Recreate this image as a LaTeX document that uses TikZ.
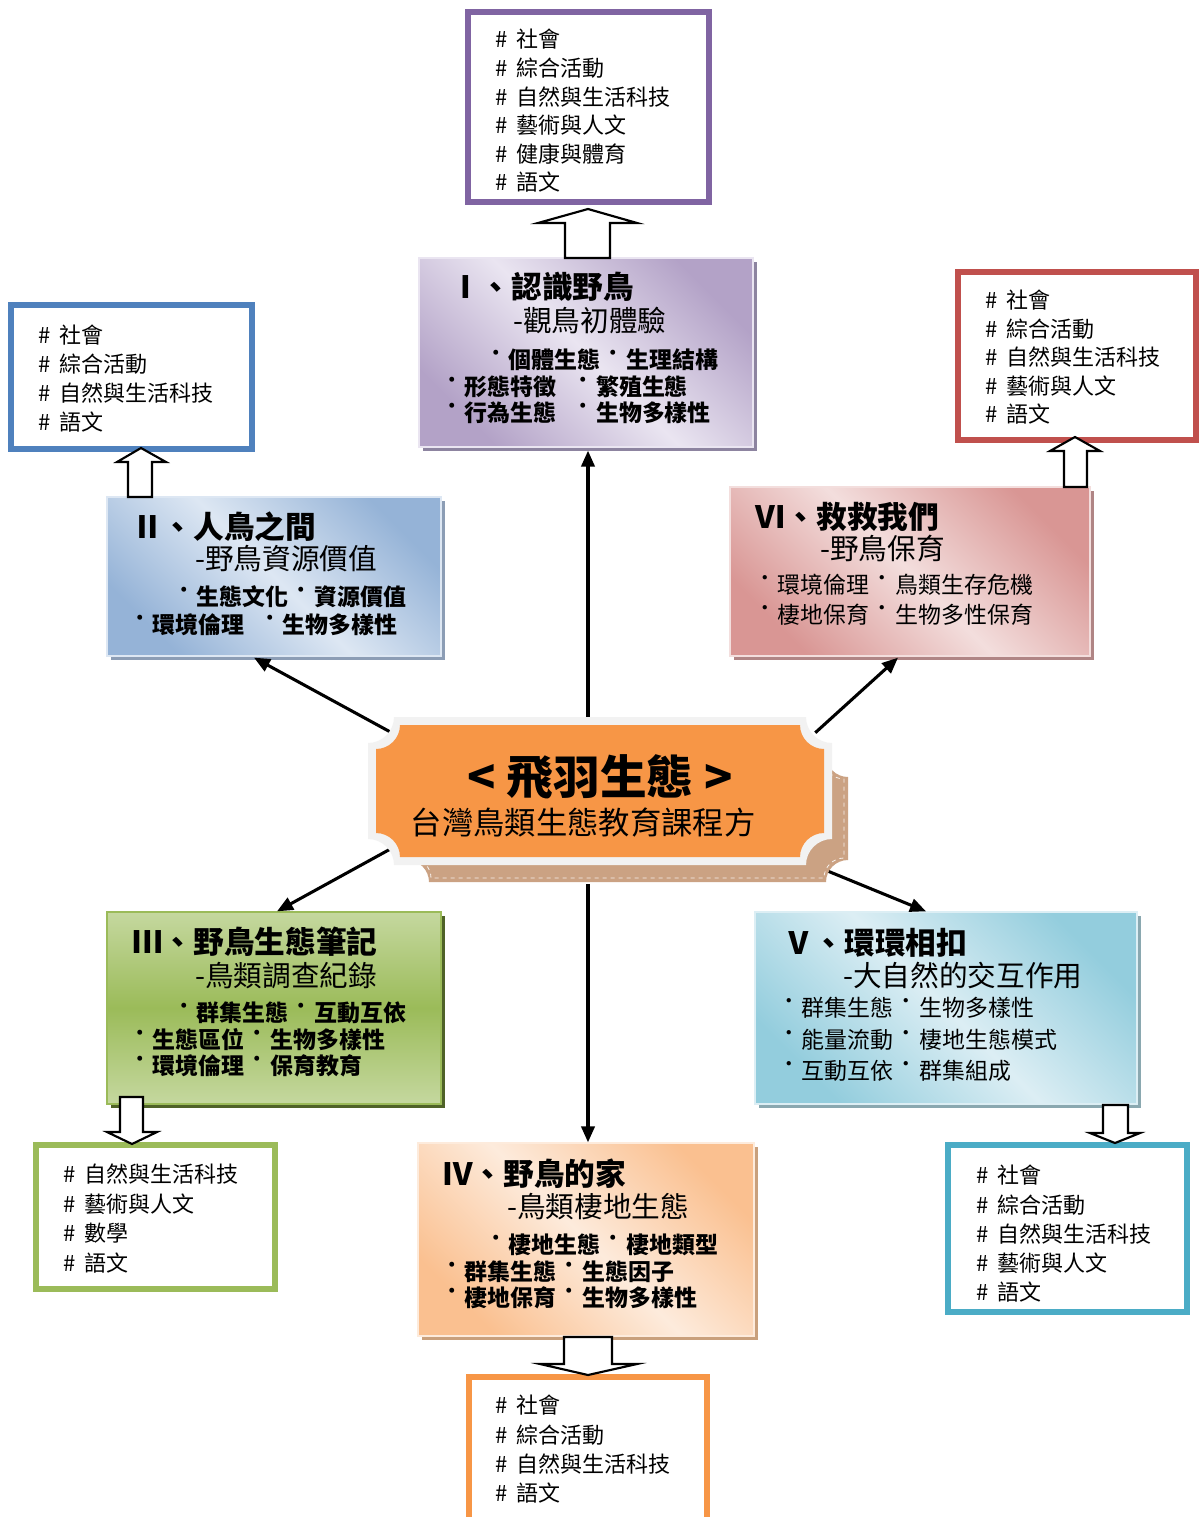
\documentclass[tikz,border=0pt]{standalone}
\usepackage{fontspec}
\setmainfont{Noto Sans CJK TC}
\usetikzlibrary{shadows,arrows.meta,fit}
\definecolor{purD}{HTML}{B3A2C7}\definecolor{purL}{HTML}{EAE5F1}\definecolor{purS}{HTML}{8D84A0}
\definecolor{bluD}{HTML}{95B3D7}\definecolor{bluL}{HTML}{DDE7F3}\definecolor{bluS}{HTML}{8C9DB5}
\definecolor{redD}{HTML}{D99694}\definecolor{redL}{HTML}{F3DEDD}\definecolor{redS}{HTML}{B08585}
\definecolor{grnD}{HTML}{9BBB59}\definecolor{grnL}{HTML}{C5D89F}\definecolor{grnS}{HTML}{4F6228}
\definecolor{orgD}{HTML}{FAC090}\definecolor{orgL}{HTML}{FDEBDC}\definecolor{orgS}{HTML}{C9A07C}
\definecolor{cyaD}{HTML}{93CDDD}\definecolor{cyaL}{HTML}{DCEEF4}\definecolor{cyaS}{HTML}{8AA8B0}
\definecolor{bPur}{HTML}{8064A2}\definecolor{bBlu}{HTML}{4F81BD}\definecolor{bRed}{HTML}{C0504D}
\definecolor{bGrn}{HTML}{9BBB59}\definecolor{bCya}{HTML}{4BACC6}\definecolor{bOrg}{HTML}{F79646}
\definecolor{hubOrg}{HTML}{F79646}\definecolor{hubFrame}{HTML}{F2F2F2}\definecolor{hubTan}{HTML}{CBA283}
\newcommand\dt{\makebox[1.12em][c]{\smash{\raisebox{0.3em}{˙}}}}
\newcommand\plaque[5]{({#1+#5},#2) -- ({#3-#5},#2) .. controls ({#3-#5},{#2+0.55*#5}) and ({#3-0.55*#5},{#2+#5}) .. (#3,{#2+#5}) -- (#3,{#4-#5}) .. controls ({#3-0.55*#5},{#4-#5}) and ({#3-#5},{#4-0.55*#5}) .. ({#3-#5},#4) -- ({#1+#5},#4) .. controls ({#1+#5},{#4-0.55*#5}) and ({#1+0.55*#5},{#4-#5}) .. (#1,{#4-#5}) -- (#1,{#2+#5}) .. controls ({#1+0.55*#5},{#2+#5}) and ({#1+#5},{#2+0.55*#5}) .. cycle}
\tikzset{
  txt/.style={anchor=base west, inner sep=0pt},
  small/.style={txt, font=\fontsize{16.5}{18}\selectfont},
  ttl/.style={txt, font=\fontsize{23}{25}\selectfont\bfseries},
  sub/.style={txt, font=\fontsize{21.5}{24}\selectfont},
  itb/.style={txt, font=\fontsize{17.2}{20}\selectfont\bfseries},
  itr/.style={txt, font=\fontsize{17.2}{20}\selectfont},
  panel/.style n args={4}{inner sep=0pt, draw=#2, line width=1pt,
    top color=#1, bottom color=#1, middle color=#2, shading angle=#4,
    drop shadow={shadow xshift=3pt, shadow yshift=-3pt, fill=#3, opacity=1}},
  subjbox/.style={draw=#1, line width=4.5pt, fill=white, inner sep=0pt},
  hollow/.style={draw=black, fill=white, line width=1.6pt, line join=miter},
  conn/.style={line width=2.3pt, -{Triangle[length=12pt,width=10pt]}},
  hubt/.style={anchor=base, inner sep=0pt}
}
\begin{document}
\begin{tikzpicture}[x=0.75pt,y=-0.75pt]
\fill[white] (0,0) rectangle (1200,1517);
\useasboundingbox (0,0) rectangle (1200,1517);

% ---------- subject boxes (y = baselines) ----------
\node[subjbox=bPur, fit={(468,12) (709,202)}] (P) {};
\foreach \t [count=\i] in {社會,綜合活動,自然與生活科技,藝術與人文,健康與體育,語文}
  \node[small] (P\i) at (495,{47.8+28.6*(\i-1)}) {\#\hspace{0.4em}\t};

\node[subjbox=bBlu, fit={(11,305) (252,449)}] (B) {};
\foreach \t [count=\i] in {社會,綜合活動,自然與生活科技,語文}
  \node[small] (B\i) at (38,{343.8+29*(\i-1)}) {\#\hspace{0.4em}\t};

\node[subjbox=bRed, fit={(958,272) (1196,440)}] (R) {};
\foreach \t [count=\i] in {社會,綜合活動,自然與生活科技,藝術與人文,語文}
  \node[small] (R\i) at (985,{308.8+28.5*(\i-1)}) {\#\hspace{0.4em}\t};

\node[subjbox=bGrn, fit={(36,1145) (275,1289)}] (G) {};
\foreach \t [count=\i] in {自然與生活科技,藝術與人文,數學,語文}
  \node[small] (G\i) at (63,{1182.8+29.5*(\i-1)}) {\#\hspace{0.4em}\t};

\node[subjbox=bCya, fit={(948,1145) (1187,1312)}] (C) {};
\foreach \t [count=\i] in {社會,綜合活動,自然與生活科技,藝術與人文,語文}
  \node[small] (C\i) at (976,{1183.8+29.2*(\i-1)}) {\#\hspace{0.4em}\t};

\node[subjbox=bOrg, fit={(469,1377) (707,1530)}] (O) {};
\foreach \t [count=\i] in {社會,綜合活動,自然與生活科技,語文}
  \node[small] (O\i) at (495,{1413.8+29.3*(\i-1)}) {\#\hspace{0.4em}\t};

% ---------- theme panels ----------
\node[panel={purD}{purL}{purS}{-45}, fit={(419,258) (753,447)}] (I) {};
\node[ttl] (It) at (450,298) {Ⅰ、認識野鳥};
\node[sub] (Is) at (513,331) {-觀鳥初體驗};
\node[itb] (Ia) at (483,368) {\dt{}個體生態\dt{}生理結構};
\node[itb] (Ib) at (439,395) {\dt{}形態特徵\hspace{0.6em}\dt{}繁殖生態};
\node[itb] (Ic) at (439,421.5) {\dt{}行為生態\hspace{0.6em}\dt{}生物多樣性};

\node[panel={bluD}{bluL}{bluS}{-45}, fit={(107,497) (441,656)}] (II) {};
\node[ttl] (IIt) at (132,538) {Ⅱ、人鳥之間};
\node[sub] (IIs) at (195,569) {-野鳥資源價值};
\node[itb] (IIa) at (171,605.5) {\dt{}生態文化\dt{}資源價值};
\node[itb] (IIb) at (127,633.5) {\dt{}環境倫理\hspace{0.55em}\dt{}生物多樣性};

\node[panel={grnL}{grnD}{grnS}{0}, fit={(107,912) (441,1104)}] (III) {};
\node[ttl] (IIIt) at (132,953) {Ⅲ、野鳥生態筆記};
\node[sub] (IIIs) at (195,986) {-鳥類調查紀錄};
\node[itb] (IIIa) at (171,1021.5) {\dt{}群集生態\dt{}互動互依};
\node[itb] (IIIb) at (127,1048.5) {\dt{}生態區位\dt{}生物多樣性};
\node[itb] (IIIc) at (127,1074.5) {\dt{}環境倫理\dt{}保育教育};

\node[panel={orgD}{orgL}{orgS}{-45}, fit={(418,1143) (754,1336)}] (IV) {};
\node[ttl] (IVt) at (442,1185) {Ⅳ、野鳥的家};
\node[sub] (IVs) at (507,1217) {-鳥類棲地生態};
\node[itb] (IVa) at (483,1253) {\dt{}棲地生態\dt{}棲地類型};
\node[itb] (IVb) at (439,1280) {\dt{}群集生態\dt{}生態因子};
\node[itb] (IVc) at (439,1306.5) {\dt{}棲地保育\dt{}生物多樣性};

\node[panel={cyaD}{cyaL}{cyaS}{-45}, fit={(755,912) (1137,1104)}] (V) {};
\node[ttl] (Vt) at (783,954) {Ⅴ、環環相扣};
\node[sub] (Vs) at (843,986) {-大自然的交互作用};
\node[itr] (Va) at (776,1016.5) {\dt{}群集生態\dt{}生物多樣性};
\node[itr] (Vb) at (776,1048.5) {\dt{}能量流動\dt{}棲地生態模式};
\node[itr] (Vc) at (776,1079.5) {\dt{}互動互依\dt{}群集組成};

\node[panel={redD}{redL}{redS}{-45}, fit={(730,487) (1090,656)}] (VI) {};
\node[ttl] (VIt) at (755,528) {Ⅵ、救救我們};
\node[sub] (VIs) at (820,559) {-野鳥保育};
\node[itr] (VIa) at (752,593.5) {\dt{}環境倫理\dt{}鳥類生存危機};
\node[itr] (VIb) at (752,623.5) {\dt{}棲地保育\dt{}生物多性保育};

% ---------- hollow arrows ----------
\draw[hollow] (565,258) -- (565,223) -- (538,223) -- (588,209) -- (637,223) -- (610,223) -- (610,258) -- cycle;
\draw[hollow] (128,497) -- (128,462) -- (117,462) -- (141,448) -- (166,462) -- (152,462) -- (152,497) -- cycle;
\draw[hollow] (1064,487) -- (1064,451) -- (1050,451) -- (1075,437) -- (1100,451) -- (1087,451) -- (1087,487) -- cycle;
\draw[hollow] (120,1097) -- (120,1132) -- (107,1132) -- (132,1144) -- (157,1132) -- (143,1132) -- (143,1097) -- cycle;
\draw[hollow] (564,1337) -- (564,1364) -- (540,1364) -- (588,1375) -- (637,1364) -- (612,1364) -- (612,1337) -- cycle;
\draw[hollow] (1103,1105) -- (1103,1133) -- (1090,1133) -- (1115,1143) -- (1140,1133) -- (1128,1133) -- (1128,1105) -- cycle;

% ---------- hub ----------
\node[fit={(368,717) (832,865)}, inner sep=0pt] (hub) {};
\draw[conn] ([shift={(-12,1)}]hub.north) -- ([shift={(2,3)}]I.south);
\draw[conn] ([shift={(24,16)}]hub.north west) -- ([shift={(-20,1)}]II.south);
\draw[conn] ([shift={(-17,16)}]hub.north east) -- ([shift={(-12,1)}]VI.south);
\draw[conn] ([shift={(24,-17)}]hub.south west) -- ([shift={(3,0)}]III.north);
\draw[conn] ([shift={(-4,6)}]hub.south east) -- ([shift={(-20,0)}]V.north);
\draw[conn] ([shift={(-12,19)}]hub.south) -- ([shift={(2,0)}]IV.north);

\fill[hubTan] \plaque{407}{755}{848}{882}{22};
\draw[white!85!hubTan, line width=0.6pt, dashed] \plaque{411}{759}{844}{878}{20};
\fill[hubFrame] \plaque{368}{717}{832}{865}{26};
\fill[hubOrg] \plaque{376}{725}{824}{857}{24};
\node[hubt, font=\fontsize{35}{38}\selectfont\bfseries] (hubtitle) at (600,794) {< 飛羽生態 >};
\node[hubt, font=\fontsize{23.5}{26}\selectfont] (hubsub) at (583,834) {台灣鳥類生態教育課程方};
\end{tikzpicture}
\end{document}
